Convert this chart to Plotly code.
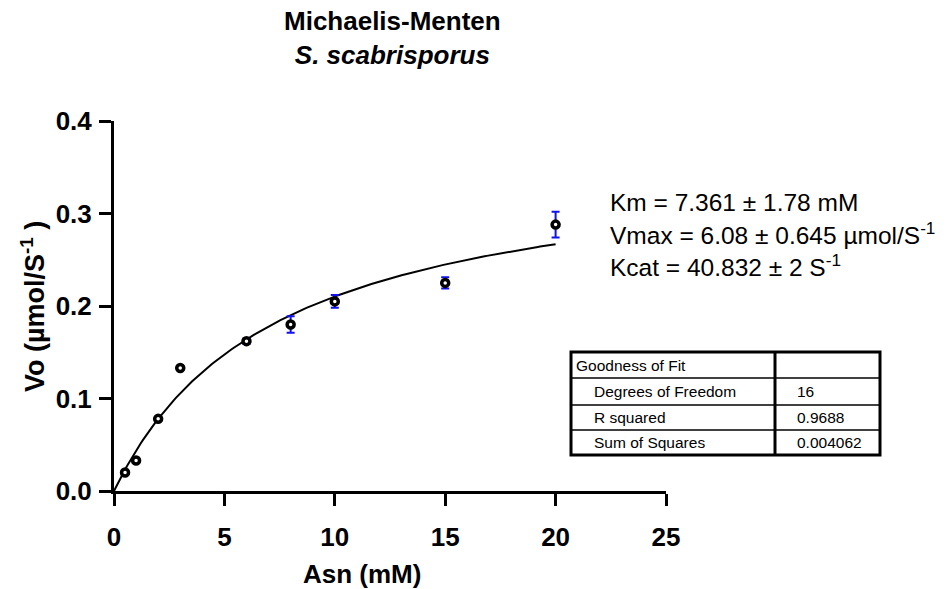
import numpy as np
import plotly.graph_objects as go

# ---- data ----
asn = [0.5, 1, 2, 3, 6, 8, 10, 15, 20]
vo = [0.020, 0.033, 0.078, 0.133, 0.162, 0.180, 0.205, 0.225, 0.288]
vo_err = [0.001, 0.001, 0.002, 0.002, 0.003, 0.009, 0.007, 0.006, 0.014]

# Michaelis-Menten fit parameters (plot units)
km = 7.361
vmax_fit = 0.365
fit_x_max = 20

x_ticks = [0, 5, 10, 15, 20, 25]
y_ticks = [0.0, 0.1, 0.2, 0.3, 0.4]
y_tick_labels = ["0.0", "0.1", "0.2", "0.3", "0.4"]

param_lines = [
    "Km = 7.361 ± 1.78 mM",
    "Vmax = 6.08 ± 0.645 µmol/S<sup>-1</sup>",
    "Kcat = 40.832 ± 2 S<sup>-1</sup>",
]
table_rows = [
    ("Goodness of Fit", ""),
    ("Degrees of Freedom", "16"),
    ("R squared", "0.9688"),
    ("Sum of Squares", "0.004062"),
]

# ---- layout geometry (pixels) ----
W, H = 951, 589
PL, PR, PT, PB = 114, 666, 121, 491


def px(x):
    return (x - PL) / (PR - PL)


def py(y):
    return (PB - y) / (PB - PT)


FONT = "Liberation Sans, Arial, sans-serif"

fit_x = np.linspace(0, fit_x_max, 200)
fit_y = vmax_fit * fit_x / (km + fit_x)

fig = go.Figure()
fig.add_trace(go.Scatter(x=fit_x, y=fit_y, mode="lines",
                         line=dict(color="black", width=2),
                         hoverinfo="skip", showlegend=False, cliponaxis=False))
fig.add_trace(go.Scatter(
    x=asn, y=vo, mode="markers",
    marker=dict(symbol="circle", size=7, color="white",
                line=dict(color="black", width=3.5)),
    error_y=dict(type="data", array=vo_err, visible=True,
                 color="#1010f0", thickness=2, width=4),
    showlegend=False, cliponaxis=False))

axis_common = dict(showline=True, linecolor="black", linewidth=3,
                   ticks="outside", ticklen=12, tickwidth=3, tickcolor="black",
                   showgrid=False, zeroline=False,
                   tickfont=dict(family=FONT, size=26, color="black", weight="bold"))

fig.update_xaxes(range=[0, 25], tickvals=x_ticks, ticklabelstandoff=9, **axis_common)
fig.update_yaxes(range=[0, 0.4], tickvals=y_ticks, ticktext=y_tick_labels,
                 ticklabelstandoff=2, **axis_common)

ann = []
ann.append(dict(x=px(392), y=py(38), xref="paper", yref="paper",
                text="<b>Michaelis-Menten</b><br><b><i>S. scabrisporus</i></b>",
                showarrow=False, xanchor="center", yanchor="middle",
                font=dict(family=FONT, size=26, color="black")))
ann.append(dict(x=px(362), y=py(574), xref="paper", yref="paper",
                text="<b>Asn (mM)</b>", showarrow=False,
                xanchor="center", yanchor="middle",
                font=dict(family=FONT, size=26, color="black")))
ann.append(dict(x=px(33), y=py(306), xref="paper", yref="paper",
                text="<b>Vo (µmol/S<sup>-1</sup> )</b>", showarrow=False,
                textangle=-90, xanchor="center", yanchor="middle",
                font=dict(family=FONT, size=27, color="black")))
for i, t in enumerate(param_lines):
    ann.append(dict(x=px(608), y=py(202 + i * 31.5), xref="paper", yref="paper",
                    text=t, showarrow=False, xanchor="left", yanchor="middle",
                    font=dict(family=FONT, size=24.5, color="black")))

# table
tL, tR, tC, tT, tB = 571, 880, 775, 352, 455
row_edges = [352, 378, 405, 430, 455]
shapes = []
shapes.append(dict(type="rect", xref="paper", yref="paper",
                   x0=px(tL), x1=px(tR), y0=py(tB), y1=py(tT),
                   line=dict(color="black", width=3), fillcolor="white", layer="above"))
shapes.append(dict(type="line", xref="paper", yref="paper",
                   x0=px(tC), x1=px(tC), y0=py(tB), y1=py(tT),
                   line=dict(color="black", width=3)))
for ry in row_edges[1:-1]:
    shapes.append(dict(type="line", xref="paper", yref="paper",
                       x0=px(tL), x1=px(tR), y0=py(ry), y1=py(ry),
                       line=dict(color="black", width=1.5)))
for i, (lab, val) in enumerate(table_rows):
    cy = (row_edges[i] + row_edges[i + 1]) / 2
    lx = 574 if i == 0 else 592
    ann.append(dict(x=px(lx), y=py(cy), xref="paper", yref="paper",
                    text=lab, showarrow=False, xanchor="left", yanchor="middle",
                    font=dict(family=FONT, size=15.5, color="black")))
    if val:
        ann.append(dict(x=px(795), y=py(cy), xref="paper", yref="paper",
                        text=val, showarrow=False, xanchor="left", yanchor="middle",
                        font=dict(family=FONT, size=15.5, color="black")))

fig.update_layout(width=W, height=H,
                  margin=dict(l=PL, r=W - PR, t=PT, b=H - PB, pad=0),
                  paper_bgcolor="white", plot_bgcolor="white",
                  annotations=ann, shapes=shapes)

fig.write_html("out.html", config={"displayModeBar": False},
               post_script="document.body.style.margin='0px';document.body.style.overflow='hidden';")
